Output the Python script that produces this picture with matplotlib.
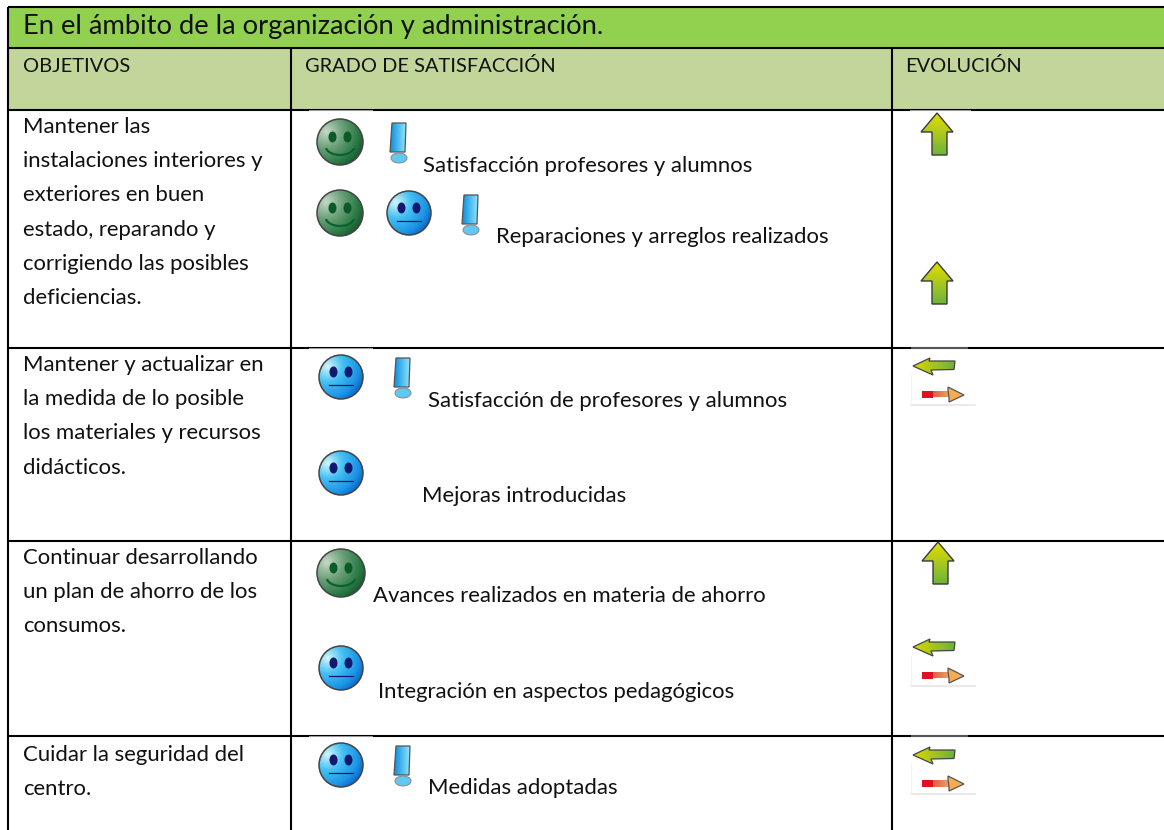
import matplotlib
matplotlib.use("Agg")
import matplotlib.pyplot as plt
import numpy as np
from matplotlib.colors import to_rgb
from matplotlib.patches import Circle, Polygon, Ellipse, Rectangle

TITLE = "En el ámbito de la organización y administración."
HEADERS = ["OBJETIVOS", "GRADO DE SATISFACCIÓN", "EVOLUCIÓN"]
OBJ_1 = ["Mantener las", "instalaciones interiores y", "exteriores en buen", "estado, reparando y", "corrigiendo las posibles", "deficiencias."]
OBJ_2 = ["Mantener y actualizar en", "la medida de lo posible", "los materiales y recursos", "didácticos."]
OBJ_3 = ["Continuar desarrollando", "un plan de ahorro de los", "consumos."]
OBJ_4 = ["Cuidar la seguridad del", "centro."]
OBJECTIVES = [OBJ_1, OBJ_2, OBJ_3, OBJ_4]
OBJ_BASE = [133, 371, 564, 761]
ITEMS = [("Satisfacción profesores y alumnos", 423, 172),
         ("Reparaciones y arreglos realizados", 496, 243),
         ("Satisfacción de profesores y alumnos", 428, 407),
         ("Mejoras introducidas", 422, 502),
         ("Avances realizados en materia de ahorro", 373, 602),
         ("Integración en aspectos pedagógicos", 378, 698),
         ("Medidas adoptadas", 428, 794)]
GREEN_FACES = [(340, 142, 23), (340, 213, 23), (341, 573, 24)]
BLUE_FACES = [(409, 213, 22), (341, 377, 22), (341, 473, 22), (341, 668, 22), (341, 765, 22)]
MARKS = [(399, 123), (471, 195), (403, 358), (403, 746)]
UP_ARROWS = [(937, 134), (937, 283), (938, 563)]
SIDE_ARROWS = [(365, 394), (646, 675), (754, 783)]
ROW_RULES = [7, 48, 110, 348, 541, 736]
COL_RULES = [291, 892]

W, H = 1164, 830
fig = plt.figure(figsize=(W / 100, H / 100), dpi=100, facecolor="white")
ax = fig.add_axes([0, 0, 1, 1])
ax.set_xlim(0, W); ax.set_ylim(H, 0); ax.axis("off")
FONT = "Lato"
BODY = 15.95
HEAD = 14.4
INK = "#111111"


def grad(x0, y0, x1, y1, c_a, c_b, clip, horizontal=False):
    a, b = np.array(to_rgb(c_a)), np.array(to_rgb(c_b))
    g = np.linspace(0, 1, 64)
    g = g[None, :, None] if horizontal else g[:, None, None]
    img = (1 - g) * a[None, None, :] + g * b[None, None, :]
    im = ax.imshow(img, extent=(x0, x1, y1, y0), aspect="auto", zorder=3, interpolation="bilinear")
    im.set_clip_path(clip)


def face(cx, cy, r, green):
    if green:
        stops = ["#c4dac6", "#6fa27c", "#2a7a45", "#1a5a30"]
        eye = "#0b5a2a"
    else:
        stops = ["#d4f5fc", "#45c0f2", "#1b94e6", "#0f66c8"]
        eye = "#12186e"
    n = 96
    yy, xx = np.mgrid[-1:1:n * 1j, -1:1:n * 1j]
    d = np.clip(np.hypot(xx + 0.6, yy + 0.45) / 1.75, 0, 1)
    rgb = np.array([to_rgb(c) for c in stops])
    pos = np.array([0.0, 0.4, 0.8, 1.0])
    img = np.dstack([np.interp(d, pos, rgb[:, i]) for i in range(3)])
    c = Circle((cx, cy), r, fc="none", ec="none")
    ax.add_patch(c)
    im = ax.imshow(img, extent=(cx - r, cx + r, cy + r, cy - r), aspect="auto", zorder=3, interpolation="bilinear")
    im.set_clip_path(c)
    ax.add_patch(Circle((cx, cy), r, fc="none", ec="#444444", lw=1.1, zorder=4))
    for dx in (-7.5, 7.5):
        ax.add_patch(Ellipse((cx + dx, cy - 5), 8, 11, fc=eye, ec="none", zorder=5))
    if green:
        t = np.linspace(np.radians(20), np.radians(160), 30)
        ax.plot(cx + 14.5 * np.cos(t), cy + 4 + 9 * np.sin(t), color="#0f6030", lw=1.6, zorder=5)
    else:
        ax.plot([cx - 12, cx + 12], [cy + 8, cy + 8], color=eye, lw=0.9, zorder=5)


def mark(cx, top):
    pts = [(cx - 7, top), (cx + 7, top), (cx + 6, top + 29), (cx - 9, top + 29)]
    p = Polygon(pts, fc="none", ec="none")
    ax.add_patch(p)
    grad(cx - 9, top, cx + 7, top + 29, "#0a8ee0", "#8fe4fa", p, horizontal=True)
    ax.add_patch(Polygon(pts, fc="none", ec="#555555", lw=0.9, zorder=4))
    ax.add_patch(Ellipse((cx, top + 35), 16, 10, fc="#62c8f2", ec="#888888", lw=0.7, zorder=4))


def up_arrow(cx, cy):
    pts = [(cx, cy - 21), (cx + 16, cy - 2), (cx + 10, cy - 2), (cx + 10, cy + 21),
           (cx - 5, cy + 21), (cx - 5, cy - 2), (cx - 16, cy - 2)]
    p = Polygon(pts, fc="none", ec="none")
    ax.add_patch(p)
    grad(cx - 16, cy - 21, cx + 16, cy + 21, "#e6dc00", "#6db43c", p)
    ax.add_patch(Polygon(pts, fc="none", ec="#3a3a3a", lw=1.0, zorder=4))


def side_arrows(y_left, y_right):
    y = y_left
    pts = [(913, y + 1), (930, y - 7), (929, y - 4), (955, y - 4), (954, y + 4.5),
           (931, y + 5), (933, y + 10)]
    p = Polygon(pts, fc="none", ec="none")
    ax.add_patch(p)
    grad(913, y - 7, 955, y + 10, "#dcd800", "#6cb23c", p, horizontal=True)
    ax.add_patch(Polygon(pts, fc="none", ec="#444444", lw=0.9, zorder=4))
    y = y_right
    ax.plot([911, 975], [y + 11, y + 11], color="#e6e6e6", lw=1.2, zorder=2)
    ax.plot([911, 911], [y - 19, y + 11], color="#f2f2f2", lw=0.8, zorder=2)
    ax.add_patch(Rectangle((922, y - 3.5), 11, 7, fc="#e01020", ec="none", zorder=4))
    s = Rectangle((933, y - 3.5), 16, 7, fc="none", ec="none")
    ax.add_patch(s)
    grad(933, y - 4, 949, y + 4, "#d8604a", "#f0a060", s, horizontal=True)
    pts = [(948, y - 3.5), (948, y - 7), (964, y + 1), (949, y + 8), (949, y + 3.5)]
    ax.add_patch(Polygon(pts, fc="#f6ac50", ec="#555555", lw=0.9, zorder=4))


# backgrounds
ax.add_patch(Rectangle((8, ROW_RULES[0]), W - 8, ROW_RULES[1] - ROW_RULES[0], fc="#92d050", ec="none", zorder=1))
ax.add_patch(Rectangle((8, ROW_RULES[1]), W - 8, ROW_RULES[2] - ROW_RULES[1], fc="#c2d69b", ec="none", zorder=1))

# rules
LW = 1.5
for y in ROW_RULES:
    ax.plot([7.5, W], [y, y], color="black", lw=LW, zorder=2, solid_capstyle="butt")
ax.plot([8, 8], [7, H], color="black", lw=LW, zorder=2, solid_capstyle="butt")
for x in COL_RULES:
    ax.plot([x, x], [ROW_RULES[1], H], color="black", lw=LW, zorder=2, solid_capstyle="butt")

# pictures overlap the rules a little
for y in (110, 348, 736):
    ax.add_patch(Rectangle((309, y + 0.4), 64, 1.2, fc="white", ec="none", zorder=2.5, snap=False))
ax.add_patch(Rectangle((910, 110.4), 61, 1.2, fc="white", ec="none", zorder=2.5, snap=False))
for y in (348, 736):
    ax.add_patch(Rectangle((911, y - 1), 57, 2, fc="#555555", ec="none", zorder=2.5, snap=False))

# text
ax.text(23, 34, TITLE, fontsize=19.7, family=FONT, va="baseline", color=INK, zorder=6)
for x, h in zip((23, 305, 905), HEADERS):
    ax.text(x, 72, h, fontsize=HEAD, family=FONT, va="baseline", color=INK, zorder=6)
for lines, y0 in zip(OBJECTIVES, OBJ_BASE):
    for i, s in enumerate(lines):
        ax.text(23, y0 + i * 34.2, s, fontsize=BODY, family=FONT, va="baseline", color=INK, zorder=6)
for s, x, y in ITEMS:
    ax.text(x, y, s, fontsize=BODY, family=FONT, va="baseline", color=INK, zorder=6)

for cx, cy, r in GREEN_FACES:
    face(cx, cy, r, True)
for cx, cy, r in BLUE_FACES:
    face(cx, cy, r, False)
for cx, top in MARKS:
    mark(cx, top)
for cx, cy in UP_ARROWS:
    up_arrow(cx, cy)
for yl, yr in SIDE_ARROWS:
    side_arrows(yl, yr)

ax.set_xlim(0, W); ax.set_ylim(H, 0)
fig.savefig("out.png", dpi=100, facecolor="white")
